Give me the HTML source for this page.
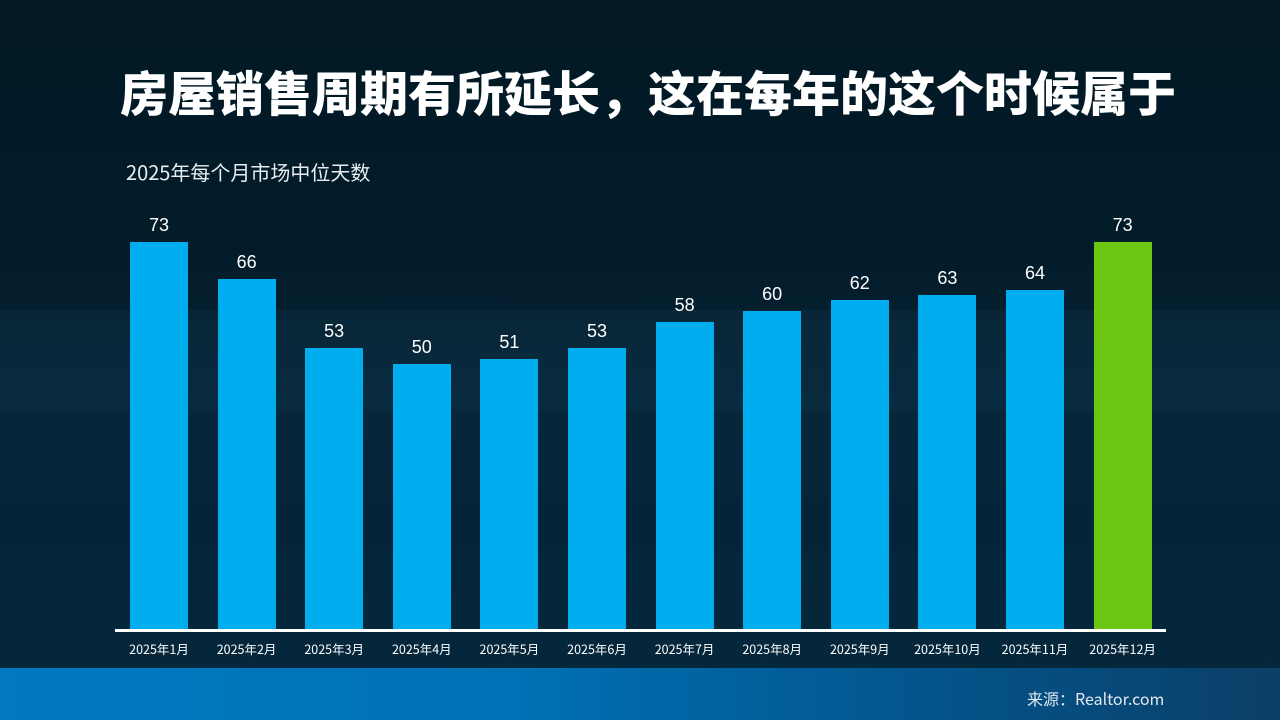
<!DOCTYPE html>
<html><head><meta charset="utf-8"><style>
body{margin:0;width:1280px;height:720px;overflow:hidden;font-family:"Liberation Sans","Noto Sans CJK SC",sans-serif;}
#bg{position:absolute;left:0;top:0;width:1280px;height:720px;background:linear-gradient(180deg,#021824 0%,#031d2c 40%,#06263a 55%,#042539 75%,#032a40 100%);}
.band{position:absolute;left:0;width:1280px}
#foot{position:absolute;left:0;top:668px;width:1280px;height:52px;background:linear-gradient(90deg,#0079c2 0%,#0071b5 40%,#03568f 70%,#0a3f66 100%);}
h1{position:absolute;left:8px;top:55px;width:1280px;margin:0;text-align:center;color:#fff;font-size:48px;font-weight:900;font-family:"Noto Sans CJK SC",sans-serif;letter-spacing:0px}
.sub{position:absolute;left:126px;top:157px;color:#e8eef2;font-size:20px;font-family:"Noto Sans CJK SC",sans-serif}
.bar{position:absolute;width:58px;background:#00aeef}
.v{position:absolute;width:80px;text-align:center;color:#fff;font-size:18px}
.l{position:absolute;top:639px;width:100px;text-align:center;color:#fff;font-size:12.5px;font-family:"Noto Sans CJK SC",sans-serif}
#axis{position:absolute;left:115px;top:629px;width:1051px;height:3px;background:#fff}
.src{position:absolute;left:1027px;top:686px;color:#e0e8f0;font-size:16px;font-family:"Noto Sans CJK SC",sans-serif}
</style></head><body>
<div id="bg"></div>
<div class="band" style="top:310px;height:100px;background:rgba(20,60,80,0.25)"></div>
<div class="band" style="top:590px;height:78px;background:rgba(10,40,60,0.3)"></div>
<div id="foot"></div>
<h1>房屋销售周期有所延长，这在每年的这个时候属于</h1>
<div class="sub">2025年每个月市场中位天数</div>
<div id="chart"></div>
<div id="axis"></div>
<div class="src">来源：Realtor.com</div>
<script>
(function(){
var d=[73,66,53,50,51,53,58,60,62,63,64,73];
var h='';
for(var i=0;i<12;i++){
 var cx=159+i*87.6, ht=d[i]*5.315, ty=630-ht;
 h+='<div class="bar" style="left:'+(cx-29)+'px;top:'+ty+'px;height:'+ht+'px;'+(i==11?'background:#6cc712':'')+'"></div>';
 h+='<div class="v" style="left:'+(cx-40)+'px;top:'+(ty-27)+'px">'+d[i]+'</div>';
 h+='<div class="l" style="left:'+(cx-50)+'px">2025年'+(i+1)+'月</div>';
}
document.getElementById('chart').innerHTML=h;
})();
</script>
</body></html>
